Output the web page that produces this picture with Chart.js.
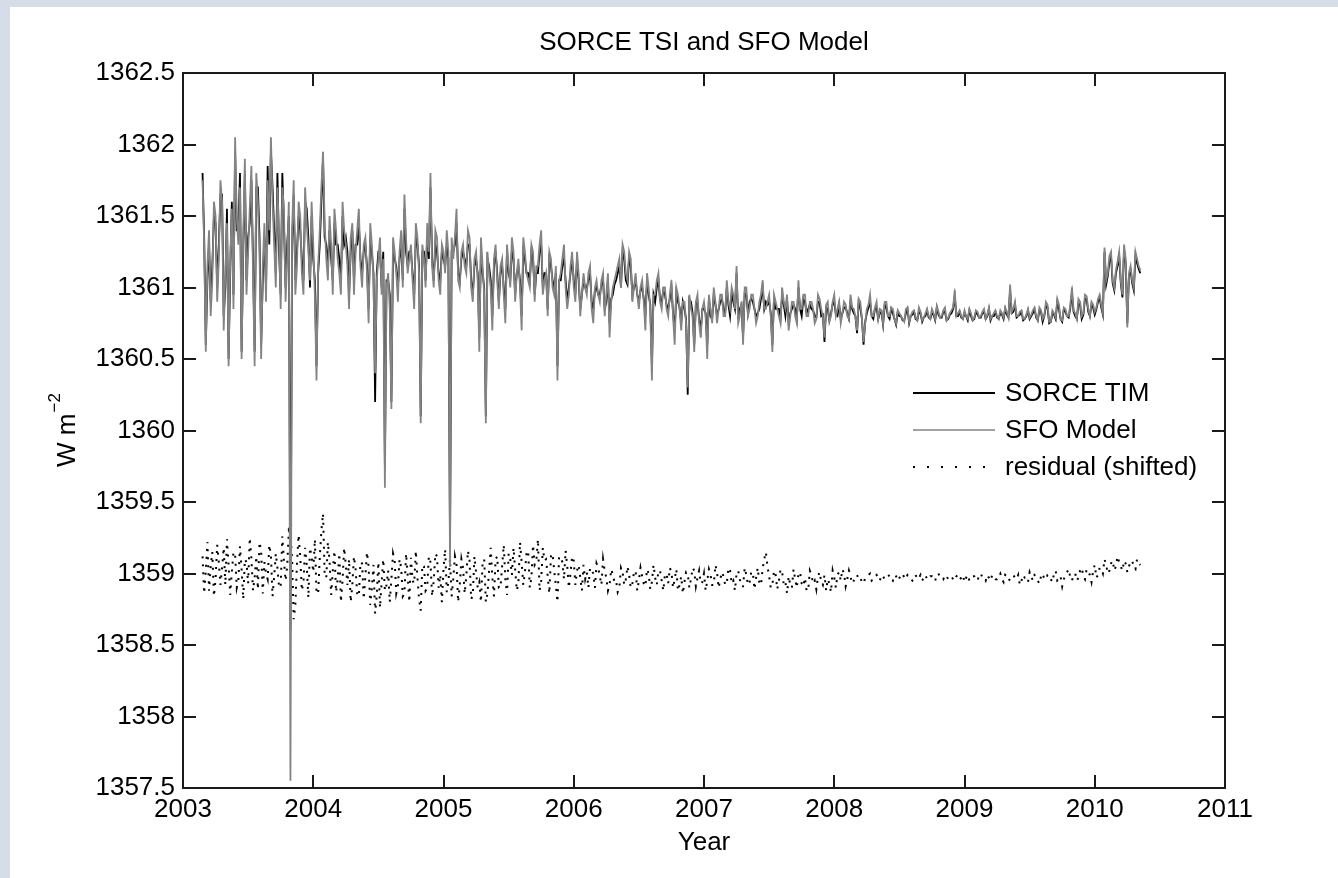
<!DOCTYPE html>
<html>
<head>
<meta charset="utf-8">
<title>SORCE TSI and SFO Model</title>
<script src="https://cdn.jsdelivr.net/npm/chart.js@4.4.1/dist/chart.umd.min.js"></script>
<style>
  html, body { margin: 0; padding: 0; background: #d6dde8; overflow: hidden; }
  canvas { display: block; }
</style>
</head>
<body>
<canvas id="tsiChart" width="1338" height="878"></canvas>
<script>
// valeurs : un point tous les 0.025 an depuis 2003.15,
// plus une seconde lecture décalée d'un demi-pas (tableaux *Mid)
const START_YEAR = 2003.15;
const STEP_YEAR = 0.025;

const yearTicks = [2003, 2004, 2005, 2006, 2007, 2008, 2009, 2010, 2011];
const wattTicks = [1357.5, 1358, 1358.5, 1359, 1359.5, 1360, 1360.5, 1361, 1361.5, 1362, 1362.5];

const sorceTim = [
  1361.80, 1360.60, 1361.30, 1361.15, 1361.45, 1361.30, 1361.65, 1361.00, 1360.50, 1361.60,
  1361.95, 1361.40, 1360.55, 1361.80, 1361.35, 1361.75, 1360.55, 1361.70, 1360.60, 1361.35,
  1361.85, 1361.95, 1361.40, 1361.80, 1360.95, 1361.45, 1361.30, 1358.60, 1361.65, 1361.25,
  1361.40, 1361.05, 1361.55, 1361.00, 1361.20, 1360.45, 1361.30, 1361.90, 1361.30, 1361.40,
  1361.05, 1361.30, 1361.20, 1361.50, 1361.35, 1360.95, 1361.40, 1361.30, 1361.45, 1361.10,
  1361.30, 1360.85, 1361.25, 1360.20, 1361.25, 1361.00, 1359.75, 1361.05, 1360.20, 1361.20,
  1361.00, 1361.30, 1361.55, 1361.15, 1361.25, 1360.95, 1361.30, 1360.10, 1361.25, 1361.35,
  1361.70, 1361.05, 1361.25, 1361.05, 1361.20, 1361.30, 1359.20, 1361.25, 1361.45, 1361.05,
  1361.25, 1361.15, 1361.30, 1360.95, 1361.20, 1360.65, 1361.10, 1360.10, 1361.15, 1360.80,
  1361.25, 1360.90, 1361.15, 1360.85, 1361.10, 1361.25, 1360.95, 1361.15, 1360.80, 1361.20,
  1361.10, 1361.25, 1360.95, 1361.10, 1361.30, 1361.10, 1360.85, 1361.15, 1361.00, 1360.45,
  1361.05, 1361.20, 1360.90, 1361.10, 1361.05, 1361.20, 1360.85, 1361.05, 1361.00, 1361.10,
  1360.85, 1361.00, 1360.95, 1361.05, 1360.90, 1360.75, 1360.95, 1361.05, 1361.15, 1361.25,
  1361.05, 1361.20, 1360.95, 1361.05, 1360.90, 1361.00, 1360.80, 1360.95, 1360.45, 1360.90,
  1361.05, 1360.90, 1360.95, 1360.85, 1361.00, 1360.70, 1360.90, 1360.75, 1360.85, 1360.25,
  1360.90, 1360.60, 1360.90, 1360.70, 1360.85, 1360.60, 1360.80, 1360.95, 1360.80, 1360.90,
  1360.85, 1361.00, 1360.80, 1360.90, 1361.10, 1360.85, 1360.65, 1360.95, 1360.90, 1360.90,
  1360.80, 1360.85, 1361.00, 1360.90, 1360.90, 1360.60, 1360.85, 1360.85, 1360.95, 1360.80,
  1360.75, 1360.85, 1360.85, 1361.00, 1360.80, 1360.90, 1360.85, 1360.85, 1360.80, 1360.90,
  1360.80, 1360.62, 1360.85, 1360.82, 1360.90, 1360.80, 1360.78, 1360.86, 1360.82, 1360.90,
  1360.82, 1360.68, 1360.86, 1360.60, 1360.82, 1360.90, 1360.78, 1360.86, 1360.82, 1360.74,
  1360.86, 1360.78, 1360.82, 1360.74, 1360.80, 1360.77, 1360.82, 1360.75, 1360.81, 1360.78,
  1360.83, 1360.76, 1360.80, 1360.79, 1360.82, 1360.77, 1360.81, 1360.79, 1360.83, 1360.78,
  1360.82, 1360.94, 1360.80, 1360.79, 1360.82, 1360.77, 1360.80, 1360.78, 1360.81, 1360.79,
  1360.83, 1360.80, 1360.77, 1360.80, 1360.79, 1360.82, 1360.78, 1360.81, 1360.98, 1360.83,
  1360.79, 1360.81, 1360.77, 1360.80, 1360.78, 1360.82, 1360.79, 1360.84, 1360.76, 1360.87,
  1360.75, 1360.82, 1360.78, 1360.85, 1360.76, 1360.83, 1360.79, 1360.96, 1360.80, 1360.89,
  1360.78, 1360.92, 1360.83, 1360.88, 1360.81, 1360.90, 1360.86, 1361.25, 1361.08, 1361.22,
  1360.98, 1361.15, 1361.03, 1361.26, 1360.75, 1361.12, 1360.98, 1361.17, 1361.10
];
const sorceTimMid = [
  1361.35, 1361.05, 1360.90, 1361.50, 1361.00, 1361.65, 1360.80, 1361.55, 1361.10, 1360.95,
  1361.40, 1361.80, 1361.25, 1361.05, 1361.45, 1361.20, 1361.70, 1361.35, 1361.05, 1361.00,
  1361.30, 1361.70, 1361.10, 1361.25, 1361.80, 1361.00, 1361.50, 1361.30, 1361.05, 1361.50,
  1361.20, 1361.60, 1361.35, 1361.50, 1361.05, 1361.10, 1361.60, 1361.35, 1361.15, 1361.20,
  1361.45, 1361.30, 1361.05, 1361.30, 1361.25, 1361.25, 1361.05, 1361.30, 1361.20, 1361.25,
  1361.15, 1361.35, 1361.10, 1361.10, 1361.25, 1361.25, 1361.05, 1360.95, 1361.25, 1361.15,
  1361.20, 1361.05, 1361.25, 1361.25, 1361.10, 1361.35, 1361.15, 1361.25, 1361.05, 1361.20,
  1361.20, 1361.30, 1361.10, 1361.25, 1361.15, 1361.20, 1361.25, 1361.30, 1361.10, 1361.20,
  1361.20, 1361.30, 1361.05, 1361.15, 1361.10, 1361.25, 1361.00, 1361.20, 1361.05, 1361.15,
  1361.10, 1361.10, 1361.00, 1361.25, 1361.05, 1361.20, 1361.10, 1361.05, 1361.25, 1361.10,
  1361.05, 1361.20, 1361.10, 1361.25, 1361.00, 1361.10, 1361.20, 1361.05, 1361.10, 1361.05,
  1361.15, 1361.05, 1361.00, 1361.20, 1360.95, 1361.05, 1360.95, 1361.00, 1361.05, 1360.90,
  1360.98, 1360.95, 1361.02, 1360.85, 1361.05, 1360.92, 1361.02, 1361.10, 1361.00, 1361.20,
  1361.02, 1361.15, 1361.00, 1360.95, 1360.98, 1360.92, 1361.05, 1360.88, 1360.95, 1361.00,
  1360.92, 1360.98, 1360.88, 1360.92, 1360.82, 1360.96, 1360.86, 1360.90, 1360.78, 1360.92,
  1360.82, 1360.88, 1360.78, 1360.85, 1360.82, 1360.92, 1360.78, 1360.88, 1360.85, 1360.92,
  1360.82, 1360.88, 1360.96, 1360.85, 1360.78, 1360.88, 1360.96, 1360.82, 1360.92, 1360.85,
  1360.82, 1360.92, 1360.85, 1360.88, 1360.82, 1360.92, 1360.85, 1360.78, 1360.88, 1360.92,
  1360.82, 1360.88, 1360.78, 1360.85, 1360.92, 1360.82, 1360.88, 1360.84, 1360.79, 1360.90,
  1360.81, 1360.86, 1360.77, 1360.88, 1360.81, 1360.88, 1360.82, 1360.86, 1360.78, 1360.85,
  1360.80, 1360.90, 1360.78, 1360.76, 1360.86, 1360.80, 1360.85, 1360.78, 1360.83, 1360.88,
  1360.80, 1360.85, 1360.78, 1360.83, 1360.80, 1360.77, 1360.85, 1360.80, 1360.83, 1360.77,
  1360.82, 1360.79, 1360.84, 1360.78, 1360.81, 1360.86, 1360.79, 1360.83, 1360.77, 1360.81,
  1360.85, 1360.80, 1360.83, 1360.78, 1360.80, 1360.84, 1360.77, 1360.83, 1360.79, 1360.82,
  1360.78, 1360.85, 1360.80, 1360.83, 1360.78, 1360.81, 1360.85, 1360.79, 1360.82, 1360.88,
  1360.80, 1360.83, 1360.78, 1360.84, 1360.80, 1360.85, 1360.77, 1360.83, 1360.80, 1360.86,
  1360.76, 1360.81, 1360.90, 1360.78, 1360.85, 1360.80, 1360.86, 1360.83, 1360.78, 1360.88,
  1360.81, 1360.92, 1360.80, 1360.86, 1360.85, 1360.93, 1360.81, 1361.02, 1361.18, 1361.03,
  1361.10, 1361.22, 1360.93, 1361.17, 1361.08, 1361.03, 1361.22, 1361.13
];

const sfoModel = [
  1361.75, 1360.55, 1361.40, 1361.05, 1361.50, 1361.20, 1361.60, 1361.10, 1360.45, 1361.55,
  1362.05, 1361.30, 1360.50, 1361.90, 1361.25, 1361.85, 1360.45, 1361.60, 1360.50, 1361.45,
  1361.75, 1362.05, 1361.30, 1361.70, 1360.85, 1361.55, 1361.20, 1357.55, 1361.75, 1361.15,
  1361.50, 1360.95, 1361.45, 1361.05, 1361.30, 1360.35, 1361.40, 1361.95, 1361.20, 1361.50,
  1360.95, 1361.40, 1361.10, 1361.60, 1361.30, 1360.85, 1361.45, 1361.25, 1361.55, 1361.00,
  1361.35, 1360.75, 1361.30, 1360.40, 1361.20, 1360.95, 1359.60, 1361.10, 1360.15, 1361.25,
  1360.90, 1361.40, 1361.65, 1361.10, 1361.30, 1360.85, 1361.35, 1360.05, 1361.20, 1361.45,
  1361.80, 1361.00, 1361.35, 1360.95, 1361.25, 1361.40, 1359.05, 1361.20, 1361.55, 1361.00,
  1361.30, 1361.10, 1361.35, 1360.90, 1361.25, 1360.55, 1361.15, 1360.05, 1361.10, 1360.70,
  1361.30, 1360.85, 1361.20, 1360.75, 1361.15, 1361.35, 1360.90, 1361.20, 1360.70, 1361.25,
  1361.05, 1361.30, 1360.90, 1361.15, 1361.40, 1361.05, 1360.80, 1361.20, 1360.95, 1360.35,
  1361.10, 1361.30, 1360.85, 1361.15, 1361.00, 1361.25, 1360.80, 1361.10, 1360.95, 1361.15,
  1360.75, 1361.05, 1360.90, 1361.10, 1360.95, 1360.65, 1361.00, 1361.10, 1361.20, 1361.30,
  1361.10, 1361.25, 1360.90, 1361.10, 1360.85, 1361.05, 1360.70, 1361.00, 1360.35, 1360.95,
  1361.10, 1360.85, 1361.00, 1360.80, 1361.05, 1360.60, 1360.95, 1360.70, 1360.90, 1360.30,
  1360.85, 1360.55, 1360.95, 1360.65, 1360.90, 1360.50, 1360.85, 1361.00, 1360.75, 1360.95,
  1360.80, 1361.05, 1360.85, 1360.95, 1361.15, 1360.80, 1360.60, 1361.00, 1360.85, 1360.95,
  1360.75, 1360.90, 1361.05, 1360.85, 1360.95, 1360.55, 1360.90, 1360.80, 1361.00, 1360.85,
  1360.70, 1360.90, 1360.80, 1361.05, 1360.85, 1360.95, 1360.80, 1360.90, 1360.75, 1360.95,
  1360.85, 1360.65, 1360.90, 1360.80, 1360.95, 1360.85, 1360.75, 1360.90, 1360.80, 1360.95,
  1360.85, 1360.70, 1360.90, 1360.62, 1360.85, 1360.95, 1360.80, 1360.90, 1360.85, 1360.75,
  1360.90, 1360.80, 1360.85, 1360.75, 1360.82, 1360.78, 1360.85, 1360.76, 1360.83, 1360.79,
  1360.86, 1360.77, 1360.82, 1360.80, 1360.85, 1360.78, 1360.83, 1360.80, 1360.86, 1360.79,
  1360.84, 1360.98, 1360.82, 1360.80, 1360.84, 1360.78, 1360.82, 1360.79, 1360.83, 1360.80,
  1360.85, 1360.81, 1360.78, 1360.82, 1360.80, 1360.84, 1360.79, 1360.83, 1361.02, 1360.85,
  1360.80, 1360.83, 1360.78, 1360.81, 1360.79, 1360.84, 1360.80, 1360.86, 1360.78, 1360.90,
  1360.76, 1360.84, 1360.79, 1360.88, 1360.77, 1360.85, 1360.80, 1361.00, 1360.82, 1360.92,
  1360.80, 1360.95, 1360.85, 1360.90, 1360.83, 1360.92, 1360.88, 1361.28, 1361.10, 1361.25,
  1361.00, 1361.18, 1361.05, 1361.30, 1360.72, 1361.15, 1361.00, 1361.20, 1361.12
];
const sfoModelMid = [
  1361.30, 1361.15, 1360.80, 1361.60, 1360.90, 1361.75, 1360.70, 1361.45, 1361.20, 1360.85,
  1361.50, 1361.70, 1361.35, 1360.95, 1361.55, 1361.10, 1361.80, 1361.25, 1361.15, 1360.90,
  1361.40, 1361.60, 1361.00, 1361.35, 1361.70, 1360.90, 1361.60, 1361.40, 1360.95, 1361.60,
  1361.10, 1361.70, 1361.25, 1361.60, 1360.95, 1361.15, 1361.70, 1361.45, 1361.05, 1361.30,
  1361.55, 1361.20, 1360.95, 1361.40, 1361.15, 1361.35, 1360.95, 1361.40, 1361.15, 1361.30,
  1361.10, 1361.45, 1361.05, 1361.05, 1361.35, 1361.20, 1361.00, 1360.85, 1361.35, 1361.10,
  1361.25, 1361.00, 1361.35, 1361.20, 1361.05, 1361.45, 1361.10, 1361.30, 1361.00, 1361.25,
  1361.15, 1361.40, 1361.05, 1361.30, 1361.10, 1361.25, 1361.35, 1361.35, 1361.05, 1361.25,
  1361.15, 1361.40, 1361.00, 1361.20, 1361.05, 1361.35, 1360.95, 1361.25, 1361.00, 1361.20,
  1361.05, 1361.15, 1360.95, 1361.30, 1361.00, 1361.25, 1361.10, 1361.00, 1361.35, 1361.10,
  1361.00, 1361.25, 1361.15, 1361.30, 1360.95, 1361.10, 1361.25, 1361.00, 1361.15, 1361.05,
  1361.20, 1361.00, 1360.95, 1361.25, 1360.90, 1361.10, 1360.95, 1361.00, 1361.10, 1360.85,
  1361.00, 1360.95, 1361.05, 1360.80, 1361.10, 1360.90, 1361.05, 1361.15, 1361.00, 1361.25,
  1361.05, 1361.20, 1361.00, 1360.95, 1361.00, 1360.90, 1361.10, 1360.85, 1360.95, 1361.05,
  1360.90, 1361.00, 1360.85, 1360.95, 1360.80, 1361.00, 1360.85, 1360.90, 1360.75, 1360.95,
  1360.80, 1360.90, 1360.75, 1360.85, 1360.80, 1360.95, 1360.75, 1360.90, 1360.85, 1360.95,
  1360.80, 1360.90, 1361.00, 1360.85, 1360.75, 1360.90, 1361.00, 1360.80, 1360.95, 1360.85,
  1360.80, 1360.95, 1360.85, 1360.90, 1360.80, 1360.95, 1360.85, 1360.75, 1360.90, 1360.95,
  1360.80, 1360.90, 1360.75, 1360.85, 1360.95, 1360.80, 1360.90, 1360.85, 1360.78, 1360.92,
  1360.80, 1360.88, 1360.76, 1360.90, 1360.80, 1360.90, 1360.82, 1360.88, 1360.78, 1360.86,
  1360.80, 1360.92, 1360.78, 1360.75, 1360.88, 1360.80, 1360.86, 1360.78, 1360.84, 1360.90,
  1360.80, 1360.86, 1360.78, 1360.84, 1360.80, 1360.76, 1360.86, 1360.80, 1360.84, 1360.77,
  1360.83, 1360.79, 1360.85, 1360.78, 1360.82, 1360.87, 1360.79, 1360.84, 1360.77, 1360.82,
  1360.86, 1360.80, 1360.84, 1360.78, 1360.80, 1360.85, 1360.77, 1360.84, 1360.79, 1360.83,
  1360.78, 1360.86, 1360.80, 1360.84, 1360.78, 1360.82, 1360.86, 1360.79, 1360.83, 1360.90,
  1360.80, 1360.84, 1360.78, 1360.85, 1360.81, 1360.86, 1360.77, 1360.84, 1360.80, 1360.88,
  1360.76, 1360.82, 1360.92, 1360.78, 1360.86, 1360.80, 1360.88, 1360.84, 1360.78, 1360.90,
  1360.82, 1360.94, 1360.80, 1360.88, 1360.86, 1360.95, 1360.82, 1361.05, 1361.22, 1361.05,
  1361.12, 1361.25, 1360.95, 1361.20, 1361.10, 1361.05, 1361.25, 1361.15
];

const residualShifted = [
  1359.12, 1359.02, 1358.88, 1359.15, 1358.96, 1359.08, 1359.04, 1358.92, 1359.06, 1359.01,
  1359.14, 1358.95, 1359.03, 1359.10, 1358.93, 1359.11, 1358.97, 1358.89, 1359.16, 1359.08,
  1358.96, 1359.13, 1358.98, 1359.04, 1358.91, 1359.09, 1359.05, 1359.28, 1358.68, 1359.07,
  1359.12, 1358.94, 1359.06, 1359.18, 1359.01, 1358.86, 1359.11, 1359.42, 1358.97, 1359.09,
  1359.02, 1358.87, 1359.14, 1358.95, 1359.06, 1359.10, 1358.92, 1359.03, 1358.84, 1359.07,
  1358.98, 1359.05, 1358.90, 1358.72, 1359.08, 1358.94, 1358.88, 1359.02, 1358.96, 1359.09,
  1358.91, 1359.04, 1358.86, 1358.99, 1359.11, 1358.93, 1358.97, 1358.74, 1359.05, 1358.90,
  1359.08, 1358.95, 1359.12, 1358.99, 1359.03, 1358.87, 1359.10, 1358.96, 1359.06, 1358.92,
  1359.04, 1358.98, 1359.09, 1358.85, 1359.01, 1358.94, 1359.07, 1358.80, 1359.02, 1358.97,
  1359.10, 1358.90, 1359.05, 1358.96, 1359.14, 1358.99, 1359.03, 1358.93, 1359.08, 1359.01,
  1359.16, 1358.97, 1359.06, 1359.24, 1358.95, 1359.09, 1358.98, 1359.12, 1359.02, 1358.80,
  1359.11, 1358.96, 1359.05, 1359.00, 1359.09, 1359.02, 1358.97, 1359.06, 1359.01, 1359.04,
  1359.00, 1359.07, 1358.98, 1359.10, 1358.97, 1358.92, 1358.99, 1358.95, 1358.90, 1359.01,
  1358.96, 1358.99, 1358.93, 1359.02, 1358.95, 1358.98, 1358.91, 1359.00, 1358.94, 1358.97,
  1359.02, 1358.95, 1358.99, 1358.93, 1359.01, 1358.96, 1358.88, 1358.98, 1358.94, 1359.00,
  1358.96, 1359.02, 1358.97, 1358.93, 1359.00, 1358.95, 1358.99, 1358.92, 1359.01, 1358.96,
  1358.98, 1358.93, 1359.02, 1358.95, 1359.00, 1358.96, 1358.91, 1358.99, 1358.94, 1359.01,
  1358.97, 1358.93, 1359.03, 1359.15, 1358.98, 1358.92, 1358.99, 1358.95, 1359.01, 1358.94,
  1358.98, 1358.90, 1358.96, 1359.00, 1358.93, 1358.97, 1358.88, 1358.99, 1358.95, 1358.98,
  1358.94, 1358.99, 1358.96, 1358.87, 1358.97, 1358.99, 1358.95, 1359.00, 1358.96, 1358.98,
  1358.95, 1358.99, 1358.97, 1358.93, 1358.98, 1359.00, 1358.96, 1358.99, 1358.95, 1358.98,
  1358.96, 1358.99, 1358.95, 1358.98, 1358.97, 1359.00, 1358.96, 1358.98, 1358.95, 1358.99,
  1358.97, 1358.95, 1358.99, 1358.96, 1358.98, 1358.95, 1359.00, 1358.97, 1358.99, 1358.96,
  1358.98, 1358.95, 1358.99, 1358.97, 1358.94, 1358.99, 1358.96, 1358.98, 1358.95, 1359.00,
  1358.97, 1358.99, 1358.95, 1358.98, 1358.96, 1359.00, 1358.94, 1358.98, 1358.96, 1358.99,
  1358.96, 1358.92, 1358.99, 1358.97, 1359.01, 1358.95, 1358.98, 1358.93, 1359.00, 1358.96,
  1358.99, 1358.94, 1359.02, 1358.96, 1358.91, 1358.99, 1359.03, 1358.95, 1359.00, 1358.97,
  1359.04, 1358.96, 1359.01, 1358.94, 1359.06, 1358.99, 1359.03, 1359.10, 1359.00, 1359.07,
  1359.02, 1359.12, 1359.05, 1359.09, 1359.01, 1359.08, 1359.04, 1359.10, 1359.06
];
const residualShiftedMid = [
  1358.86, 1359.22, 1359.05, 1358.84, 1359.20, 1358.92, 1359.18, 1359.24, 1358.85, 1359.15,
  1358.90, 1359.19, 1358.82, 1359.08, 1359.25, 1358.88, 1359.12, 1359.22, 1358.86, 1359.00,
  1359.20, 1358.84, 1359.14, 1358.90, 1359.26, 1358.95, 1359.30, 1359.10, 1358.78, 1359.27,
  1358.88, 1359.18, 1358.83, 1359.12, 1359.24, 1358.86, 1359.30, 1359.00, 1359.22, 1358.85,
  1359.16, 1358.96, 1358.80, 1359.18, 1358.92, 1358.80, 1359.12, 1358.86, 1359.08, 1358.82,
  1359.15, 1358.78, 1359.06, 1358.85, 1358.76, 1359.10, 1358.92, 1358.80, 1359.14, 1358.86,
  1359.10, 1358.84, 1359.14, 1358.80, 1358.95, 1359.16, 1358.82, 1359.06, 1358.88, 1359.12,
  1358.84, 1359.14, 1358.90, 1358.80, 1359.17, 1358.94, 1358.84, 1359.12, 1358.80, 1359.10,
  1358.86, 1359.16, 1358.82, 1359.12, 1358.90, 1358.80, 1359.10, 1358.86, 1359.18, 1358.84,
  1359.12, 1358.90, 1359.20, 1358.85, 1359.10, 1359.18, 1358.88, 1359.22, 1358.92, 1359.14,
  1358.90, 1359.20, 1359.08, 1358.88, 1359.18, 1359.10, 1358.86, 1359.14, 1358.92, 1359.12,
  1359.08, 1359.16, 1358.90, 1359.12, 1358.92, 1359.06, 1358.88, 1358.96, 1358.90, 1359.02,
  1358.90, 1359.04, 1358.92, 1359.02, 1358.88, 1359.03, 1358.94, 1358.87, 1359.04, 1358.92,
  1359.05, 1358.90, 1359.01, 1358.88, 1359.04, 1358.93, 1359.03, 1358.89, 1359.06, 1358.92,
  1359.02, 1358.88, 1359.00, 1359.04, 1358.90, 1359.03, 1358.92, 1358.86, 1359.01, 1358.90,
  1359.04, 1358.91, 1359.02, 1358.94, 1358.88, 1359.03, 1358.92, 1359.06, 1358.90, 1359.01,
  1358.92, 1359.04, 1358.93, 1358.88, 1359.02, 1358.91, 1359.04, 1358.92, 1359.01, 1358.89,
  1359.04, 1358.92, 1359.10, 1359.05, 1358.90, 1359.02, 1358.89, 1359.03, 1358.92, 1358.86,
  1358.92, 1359.03, 1358.90, 1359.01, 1358.91, 1358.88, 1359.02, 1358.93, 1358.89, 1359.01,
  1358.92, 1358.88, 1358.93, 1359.02, 1358.90, 1359.01, 1359.03, 1358.91, 1359.02, 1358.93,
  1358.98, 1358.96, 1358.94, 1358.97, 1358.99, 1358.95, 1358.98, 1358.96, 1358.99, 1358.96,
  1358.98, 1358.96, 1358.99, 1358.95, 1358.98, 1358.97, 1358.99, 1358.96, 1358.98, 1358.96,
  1358.99, 1358.97, 1358.96, 1358.98, 1358.95, 1358.99, 1358.97, 1358.96, 1358.98, 1358.97,
  1358.96, 1358.98, 1358.96, 1358.99, 1358.97, 1358.95, 1358.98, 1358.96, 1358.99, 1358.97,
  1358.95, 1358.97, 1358.99, 1358.96, 1358.98, 1358.96, 1358.99, 1358.95, 1358.98, 1358.97,
  1358.99, 1358.95, 1358.97, 1358.94, 1358.98, 1358.99, 1358.95, 1358.98, 1358.96, 1358.99,
  1358.96, 1359.00, 1358.95, 1358.98, 1358.96, 1359.01, 1358.97, 1358.99, 1358.95, 1359.02,
  1358.98, 1359.03, 1358.99, 1359.02, 1358.97, 1359.04, 1359.00, 1359.06, 1359.02, 1359.09,
  1359.05, 1359.08, 1359.02, 1359.07, 1359.05, 1359.09, 1359.03, 1359.07
];

const FONT = '"Liberation Sans", Arial, Helvetica, sans-serif';

// réunit les deux lectures en une seule suite de points {x: année, y: valeur}
function weave(onGrid, mid) {
  const pts = [];
  onGrid.forEach((v, i) => {
    pts.push({ x: START_YEAR + i * STEP_YEAR, y: v });
    if (i < mid.length) pts.push({ x: START_YEAR + (i + 0.5) * STEP_YEAR, y: mid[i] });
  });
  return pts;
}

// cadre, ticks vers l'intérieur, titres et légende façon MATLAB
const matlabFrame = {
  id: 'matlabFrame',
  beforeDraw(chart) {
    const c = chart.ctx;
    c.save();
    c.fillStyle = '#d6dde8';
    c.fillRect(0, 0, chart.width, chart.height);
    c.fillStyle = '#ffffff';
    c.fillRect(10, 7, chart.width - 10, chart.height - 7);
    c.restore();
  },
  afterDraw(chart) {
    const c = chart.ctx;
    const a = chart.chartArea;
    const xs = chart.scales.x;
    const ys = chart.scales.y;
    const tick = 13;

    c.save();
    c.strokeStyle = '#1a1a1a';
    c.lineWidth = 2;
    c.strokeRect(a.left, a.top, a.right - a.left, a.bottom - a.top);
    c.beginPath();
    xs.ticks.forEach(t => {
      const px = Math.round(xs.getPixelForValue(t.value));
      c.moveTo(px, a.bottom); c.lineTo(px, a.bottom - tick);
      c.moveTo(px, a.top); c.lineTo(px, a.top + tick);
    });
    ys.ticks.forEach(t => {
      const py = Math.round(ys.getPixelForValue(t.value));
      c.moveTo(a.left, py); c.lineTo(a.left + tick, py);
      c.moveTo(a.right, py); c.lineTo(a.right - tick, py);
    });
    c.stroke();

    c.fillStyle = '#000';
    c.textBaseline = 'middle';
    c.textAlign = 'center';
    c.font = '26px ' + FONT;
    c.fillText('SORCE TSI and SFO Model', (a.left + a.right) / 2, 43);
    c.fillText('Year', (a.left + a.right) / 2, 843);

    // label Y avec exposant
    c.save();
    c.translate(68, (a.top + a.bottom) / 2);
    c.rotate(-Math.PI / 2);
    c.textAlign = 'left';
    const base = 'W m';
    c.font = '26px ' + FONT;
    const wBase = c.measureText(base).width;
    c.font = '17px ' + FONT;
    const wSup = c.measureText('\u22122').width;
    const x0 = -(wBase + wSup) / 2;
    c.font = '26px ' + FONT;
    c.fillText(base, x0, 0);
    c.font = '17px ' + FONT;
    c.fillText('\u22122', x0 + wBase + 1, -13);
    c.restore();

    // légende
    const entries = chart.data.datasets.slice().sort((p, q) => p.legendRank - q.legendRank);
    c.font = '26px ' + FONT;
    c.textAlign = 'left';
    entries.forEach((ds, k) => {
      const y = 393 + k * 37;
      c.beginPath();
      c.strokeStyle = ds.borderColor;
      c.lineWidth = ds.legendWidth;
      c.setLineDash(ds.legendDash || []);
      c.moveTo(913, y); c.lineTo(995, y);
      c.stroke();
      c.setLineDash([]);
      c.fillStyle = '#000';
      c.fillText(ds.label, 1005, y + 1);
    });
    c.restore();
  }
};

const ctx = document.getElementById('tsiChart').getContext('2d');
const tsiChart = new Chart(ctx, {
  type: 'line',
  data: {
    datasets: [
      {
        label: 'SFO Model',
        data: weave(sfoModel, sfoModelMid),
        borderColor: '#838383',
        borderWidth: 1.8,
        legendWidth: 1.6,
        legendRank: 1,
        order: 0
      },
      {
        label: 'SORCE TIM',
        data: weave(sorceTim, sorceTimMid),
        borderColor: '#000000',
        borderWidth: 1.8,
        legendWidth: 2,
        legendRank: 0,
        order: 1
      },
      {
        label: 'residual (shifted)',
        data: weave(residualShifted, residualShiftedMid),
        borderColor: '#000000',
        borderWidth: 2,
        borderDash: [2, 6],
        legendDash: [2, 12],
        legendWidth: 2,
        legendRank: 2,
        order: 2
      }
    ]
  },
  options: {
    responsive: false,
    animation: false,
    parsing: false,
    elements: {
      point: { radius: 0, hoverRadius: 0 },
      line: { tension: 0, fill: false, borderCapStyle: 'butt', borderJoinStyle: 'miter' }
    },
    layout: { padding: { top: 73, right: 113, bottom: 0, left: 0 } },
    plugins: {
      legend: { display: false },
      tooltip: { enabled: false },
      title: { display: false }
    },
    scales: {
      x: {
        type: 'linear',
        min: 2003,
        max: 2011,
        afterBuildTicks: s => { s.ticks = yearTicks.map(v => ({ value: v })); },
        afterFit: s => { s.height = 90; },
        grid: { display: false, drawTicks: false },
        border: { display: false },
        ticks: {
          autoSkip: false,
          maxRotation: 0,
          padding: 6,
          color: '#000',
          font: { family: FONT, size: 26 },
          callback: v => String(v)
        }
      },
      y: {
        type: 'linear',
        min: 1357.5,
        max: 1362.5,
        afterBuildTicks: s => { s.ticks = wattTicks.map(v => ({ value: v })); },
        afterFit: s => { s.width = 183; },
        grid: { display: false, drawTicks: false },
        border: { display: false },
        ticks: {
          autoSkip: false,
          padding: 8,
          color: '#000',
          font: { family: FONT, size: 26 },
          callback: v => String(v)
        }
      }
    }
  },
  plugins: [matlabFrame]
});
</script>
</body>
</html>
